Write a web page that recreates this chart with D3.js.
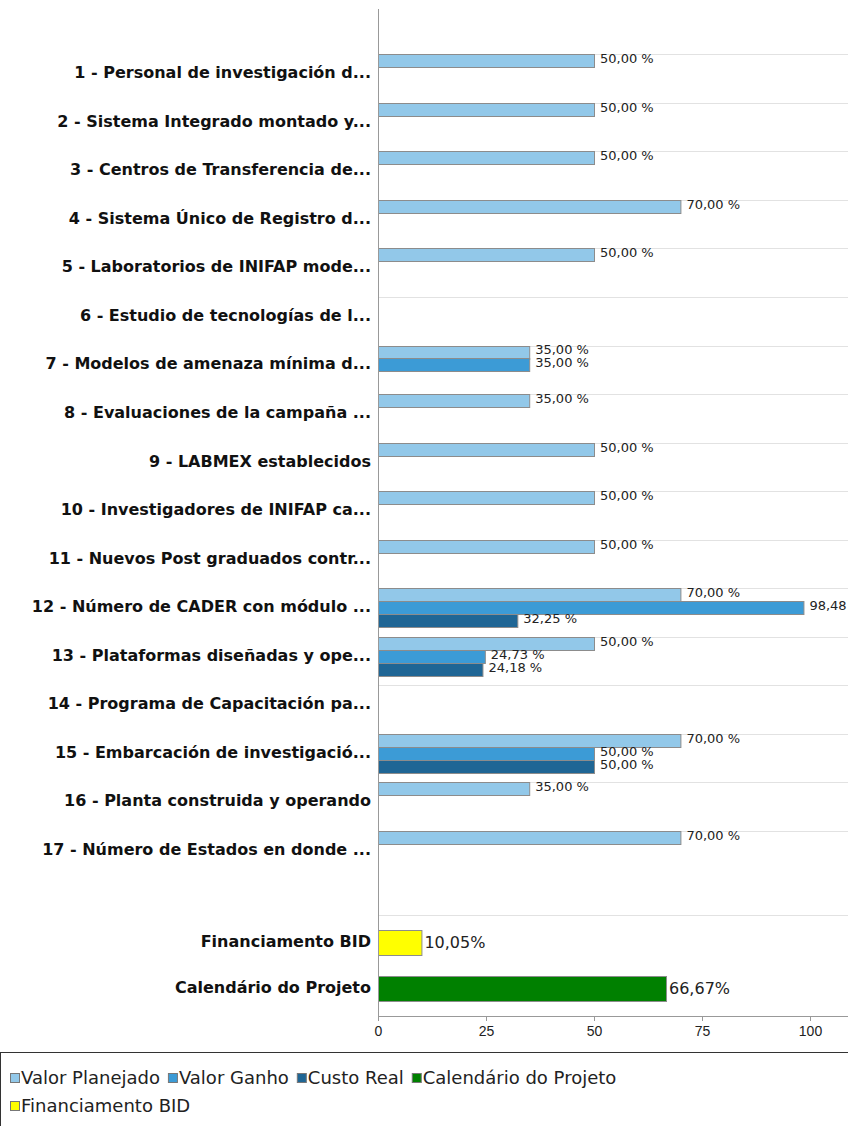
<!DOCTYPE html>
<html>
<head>
<meta charset="utf-8">
<script src="https://cdn.jsdelivr.net/npm/d3@7"></script>
<style>
  body { margin: 0; background: #fff; }
  svg { display: block; }
</style>
</head>
<body>
<div id="chart"></div>
<script>
// categorias do projeto (rotulos truncados como no original)
var categories = [
  '1 - Personal de investigación d...',
  '2 - Sistema Integrado montado y...',
  '3 - Centros de Transferencia de...',
  '4 - Sistema Único de Registro d...',
  '5 - Laboratorios de INIFAP mode...',
  '6 - Estudio de tecnologías de l...',
  '7 - Modelos de amenaza mínima d...',
  '8 - Evaluaciones de la campaña ...',
  '9 - LABMEX establecidos',
  '10 - Investigadores de INIFAP ca...',
  '11 - Nuevos Post graduados contr...',
  '12 - Número de CADER con módulo ...',
  '13 - Plataformas diseñadas y ope...',
  '14 - Programa de Capacitación pa...',
  '15 - Embarcación de investigació...',
  '16 - Planta construida y operando',
  '17 - Número de Estados en donde ...'
];
var seriesNames = ['Valor Planejado', 'Valor Ganho', 'Custo Real'];
var valorPlanejado = [50, 50, 50, 70, 50, null, 35, 35, 50, 50, 50, 70, 50, null, 70, 35, 70];
var valorGanho     = [null, null, null, null, null, null, 35, null, null, null, null, 98.48, 24.73, null, 50, null, null];
var custoReal      = [null, null, null, null, null, null, null, null, null, null, null, 32.25, 24.18, null, 50, null, null];

var summaryCats = ['Financiamento BID', 'Calendário do Projeto'];
var summaryValues = [10.05, 66.67];

var xTicks = [0, 25, 50, 75, 100];
var legendNames = ['Valor Planejado', 'Valor Ganho', 'Custo Real', 'Calendário do Projeto', 'Financiamento BID'];

const colors = {
  'Valor Planejado': '#92c8e9',
  'Valor Ganho': '#3c9bd6',
  'Custo Real': '#1f6695',
  'Calendário do Projeto': '#008000',
  'Financiamento BID': '#ffff00'
};

var width = 848, height = 1126;
var font = 'DejaVu Sans, Verdana, sans-serif';
var fmt = function(v) { return v.toFixed(2).replace('.', ','); };

var svg = d3.select('#chart').append('svg')
  .attr('width', width)
  .attr('height', height);

var x = d3.scaleLinear().domain([0, 100]).range([378, 810]);

var y = d3.scaleBand()
  .domain(categories)
  .range([9, 915])
  .paddingInner(0.196)
  .paddingOuter(0.938);

var ySub = d3.scaleBand().domain(seriesNames).range([0, y.bandwidth()]);

var y2 = d3.scaleBand()
  .domain(summaryCats)
  .range([915, 1016])
  .paddingInner(0.457)
  .paddingOuter(0.326);

// linhas de grade
var gridY = categories.map(function(c) { return y(c); }).concat([915]);
svg.append('g')
  .selectAll('line')
  .data(gridY)
  .enter().append('line')
  .attr('x1', x(0)).attr('x2', width)
  .attr('y1', function(d) { return Math.round(d) + 0.5; })
  .attr('y2', function(d) { return Math.round(d) + 0.5; })
  .attr('stroke', '#e2e2e2');

// barras agrupadas
var rows = [];
categories.forEach(function(c, i) {
  var vals = [valorPlanejado[i], valorGanho[i], custoReal[i]];
  var k = 0;
  vals.forEach(function(v, j) {
    if (v == null) return;
    rows.push({ cat: c, series: seriesNames[j], slot: seriesNames[k], value: v });
    k++;
  });
});

var barG = svg.append('g');
barG.selectAll('rect')
  .data(rows)
  .enter().append('rect')
  .attr('x', x(0) + 0.5)
  .attr('y', function(d) { return Math.round(y(d.cat) + ySub(d.slot)) + 0.5; })
  .attr('width', function(d) { return x(d.value) - x(0); })
  .attr('height', Math.round(ySub.bandwidth()))
  .attr('fill', function(d) { return colors[d.series]; })
  .attr('stroke', '#8c8c8c');

barG.selectAll('text')
  .data(rows)
  .enter().append('text')
  .attr('x', function(d) { return x(d.value) + 6; })
  .attr('y', function(d) { return y(d.cat) + ySub(d.slot) + ySub.bandwidth() / 2 - 1; })
  .attr('dominant-baseline', 'middle')
  .attr('font-family', font)
  .attr('font-size', '13px')
  .attr('fill', '#222')
  .text(function(d) { return fmt(d.value) + ' %'; });

// barras de resumo
var sumG = svg.append('g');
sumG.selectAll('rect')
  .data(summaryCats)
  .enter().append('rect')
  .attr('x', x(0) + 0.5)
  .attr('y', function(d) { return Math.round(y2(d)) + 0.5; })
  .attr('width', function(d, i) { return x(summaryValues[i]) - x(0); })
  .attr('height', Math.round(y2.bandwidth()))
  .attr('fill', function(d) { return colors[d]; })
  .attr('stroke', '#8c8c8c');

sumG.selectAll('text')
  .data(summaryCats)
  .enter().append('text')
  .attr('x', function(d, i) { return x(summaryValues[i]) + 3; })
  .attr('y', function(d) { return y2(d) + y2.bandwidth() / 2 + 1; })
  .attr('dominant-baseline', 'middle')
  .attr('font-family', font)
  .attr('font-size', '16px')
  .attr('fill', '#222')
  .text(function(d, i) { return fmt(summaryValues[i]) + '%'; });

// rotulos das categorias
var labG = svg.append('g')
  .attr('font-family', font)
  .attr('font-weight', 'bold')
  .attr('font-size', '16px')
  .attr('fill', '#111')
  .attr('text-anchor', 'end');

labG.selectAll('text.cat')
  .data(categories)
  .enter().append('text')
  .attr('class', 'cat')
  .attr('x', 371)
  .attr('y', function(d) { return y(d) + y.bandwidth() / 2; })
  .attr('dominant-baseline', 'middle')
  .text(function(d) { return d; });

labG.selectAll('text.sum')
  .data(summaryCats)
  .enter().append('text')
  .attr('class', 'sum')
  .attr('x', 371)
  .attr('y', function(d) { return y2(d) + y2.bandwidth() / 2; })
  .attr('dominant-baseline', 'middle')
  .text(function(d) { return d; });

// eixos
svg.append('line')
  .attr('x1', x(0) + 0.5).attr('x2', x(0) + 0.5)
  .attr('y1', 9).attr('y2', 1016)
  .attr('stroke', '#999');

var xAxis = svg.append('g')
  .attr('transform', 'translate(0,1016)')
  .call(d3.axisBottom(x).tickValues(xTicks).tickSize(5).tickPadding(5));
xAxis.select('.domain').remove();
xAxis.append('line')
  .attr('x1', x(0)).attr('x2', width)
  .attr('y1', 0.5).attr('y2', 0.5)
  .attr('stroke', '#999');
xAxis.selectAll('.tick line').attr('stroke', '#999');
xAxis.selectAll('.tick text')
  .attr('font-family', 'Liberation Sans, Arial, sans-serif')
  .attr('font-size', '14px')
  .attr('fill', '#222');

// legenda
var legend = svg.append('g');
legend.append('rect')
  .attr('x', 0.5).attr('y', 1052.5)
  .attr('width', width + 10).attr('height', 100)
  .attr('fill', 'none')
  .attr('stroke', '#333');

var lx = 10, ly = 1079;
legendNames.forEach(function(name) {
  var item = legend.append('g');
  var t = item.append('text')
    .attr('x', lx + 11)
    .attr('y', ly)
    .attr('dominant-baseline', 'middle')
    .attr('font-family', font)
    .attr('font-size', '18px')
    .attr('fill', '#222')
    .text(name);
  var w = t.node().getComputedTextLength();
  if (lx + 11 + w > 720) {
    lx = 10; ly += 28;
    t.attr('x', lx + 11).attr('y', ly);
  }
  item.append('rect')
    .attr('x', lx + 0.5).attr('y', ly - 5.5)
    .attr('width', 9).attr('height', 9)
    .attr('fill', colors[name])
    .attr('stroke', '#777');
  lx += 11 + w + 8;
});
</script>
</body>
</html>
